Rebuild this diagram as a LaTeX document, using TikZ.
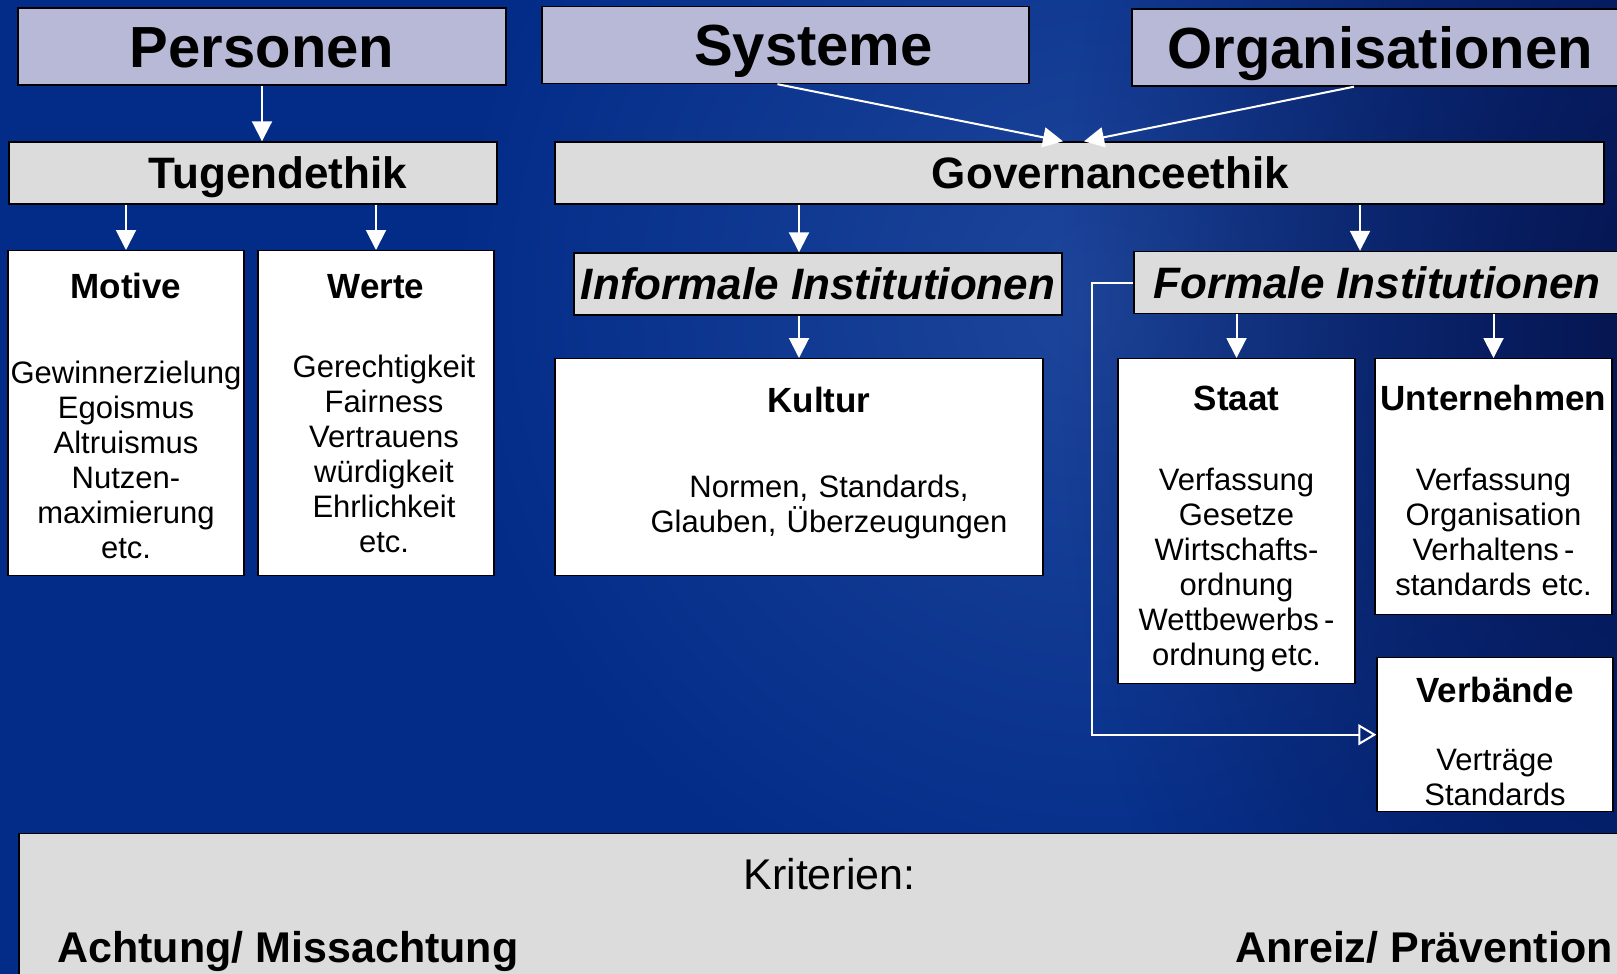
\documentclass[tikz,border=0pt]{standalone}
\usepackage{fontspec}
\setmainfont{Liberation Sans}
\usetikzlibrary{arrows.meta,positioning,fadings}

\definecolor{bgblue}{RGB}{3,44,137}
\definecolor{bglight}{RGB}{30,70,155}
\definecolor{bgdark}{RGB}{6,20,78}
\definecolor{headlav}{RGB}{183,185,214}
\definecolor{boxgrey}{RGB}{220,220,220}
\tikzfading[name=softspot,inner color=transparent!0,outer color=transparent!100]
\newcommand\cardtitle[1]{{\bfseries\fontsize{17.5}{17.5}\selectfont #1}}

\begin{document}
\begin{tikzpicture}[x=0.5pt,y=-0.5pt,
head/.style={draw,line width=0.7pt,fill=headlav,inner sep=0pt,minimum height=38.5pt,text height=20.8pt,text depth=0pt,font=\bfseries\fontsize{29}{34}\selectfont},
eth/.style={draw,line width=0.7pt,fill=boxgrey,inner sep=0pt,minimum height=31pt,text height=15.8pt,text depth=0pt,font=\bfseries\fontsize{22}{26}\selectfont},
inst/.style={eth,font=\bfseries\itshape\fontsize{22}{26}\selectfont},
card/.style={draw,line width=0.7pt,fill=white,anchor=north,align=center,inner sep=0pt,font=\fontsize{15.5}{17.5}\selectfont},
crit/.style={inner sep=0pt,font=\bfseries\fontsize{21.5}{26}\selectfont},
link/.style={draw=white,line width=1pt,-{Triangle[length=10pt,width=10pt]}},
openlink/.style={draw=white,line width=1pt,-{Triangle[open,length=9pt,width=10.5pt]}}]
\useasboundingbox (0,0) rectangle (1617,974);
\fill[bgblue] (0,0) rectangle (1617,974);
\fill[bglight,path fading=softspot] (1100,300) circle[radius=330pt];
\fill[bgdark,path fading=softspot] (1660,330) ellipse[x radius=300pt,y radius=520pt];

\node[head,minimum width=244pt] (personen) at (262,46.5) {Personen};
\node[head,minimum width=243.5pt] (systeme) at (785.5,45) {\hspace*{28pt}Systeme};
\node[head,minimum width=248pt] (organisationen) at (1380,47.5) {Organisationen};
\node[eth,minimum width=244pt] (tugend) at (253,173) {\hspace*{25pt}Tugendethik};
\node[eth,minimum width=524.5pt] (governance) at (1079.5,173) {\hspace*{31pt}Governanceethik};
\node[inst,minimum width=244pt] (informal) at (818,284) {Informale Institutionen};
\node[inst,minimum width=243pt] (formal) at (1377,282.5) {Formale Institutionen};

\node[card,text width=118pt,text height=24pt,text depth=138.5pt] (motive) at (126,250)
  {\cardtitle{Motive}\\[25pt]Gewinnerzielung\\Egoismus\\Altruismus\\Nutzen-\\maximierung\\etc.};
\node[card,text width=118pt,text height=24pt,text depth=138.5pt] (werte) at (376,250)
  {\cardtitle{Werte}\\[22pt]\hspace*{8pt}Gerechtigkeit\\\hspace*{8pt}Fairness\\\hspace*{8pt}Vertrauens\\\hspace*{8pt}würdigkeit\\\hspace*{8pt}Ehrlichkeit\\\hspace*{8pt}etc.};
\node[card,text width=244pt,text height=27pt,text depth=81.5pt] (kultur) at (799,358)
  {\hspace*{20pt}\cardtitle{Kultur}\\[25pt]\hspace*{30pt}Normen, Standards,\\\hspace*{30pt}Glauben, Überzeugungen};
\node[card,text width=118.5pt,text height=26pt,text depth=136.5pt] (staat) at (1236.5,358)
  {\cardtitle{Staat}\\[22.5pt]Verfassung\\Gesetze\\Wirtschafts-\\ordnung\\Wettbewerbs\,-\\ordnung\,etc.};
\node[card,text width=118.5pt,text height=26pt,text depth=102pt] (unternehmen) at (1493.5,358)
  {\cardtitle{Unternehmen}\\[22.5pt]Verfassung\\Organisation\\Verhaltens\,-\\standards etc.};
\node[card,text width=118pt,text height=22.5pt,text depth=54.5pt] (verbaende) at (1495,657)
  {\cardtitle{Verbände}\\[16.5pt]Verträge\\Standards};

\node[card,fill=boxgrey,text width=810.5pt,text height=28pt,text depth=60.5pt,font=\fontsize{21.5}{26}\selectfont] (kriterien) at (829.5,833) {Kriterien:};
\node[crit,anchor=base west] (achtung) at (57,962) {Achtung/ Missachtung};
\node[crit,anchor=base east] (anreiz) at (1613,962) {Anreiz/ Prävention};

\draw[link] (personen.south) -- (personen.south |- tugend.north);
\draw[link] (motive.north |- tugend.south) -- (motive.north);
\draw[link] (werte.north |- tugend.south) -- (werte.north);
\draw[link] ([xshift=-4pt]systeme.south) -- ([xshift=-8.25pt]governance.north);
\draw[link] ([xshift=-13pt]organisationen.south) -- ([xshift=2.25pt]governance.north);
\draw[link] (kultur.north |- governance.south) -- (kultur.north |- informal.north);
\draw[link] (kultur.north |- informal.south) -- (kultur.north);
\draw[link] ([xshift=-8.5pt]formal.north |- governance.south) -- ([xshift=-8.5pt]formal.north);
\draw[link] (staat.north |- formal.south) -- (staat.north);
\draw[link] (unternehmen.north |- formal.south) -- (unternehmen.north);
\draw[openlink] (formal.west) -- ++(-20.5pt,0) |- (verbaende.west);
\end{tikzpicture}
\end{document}
